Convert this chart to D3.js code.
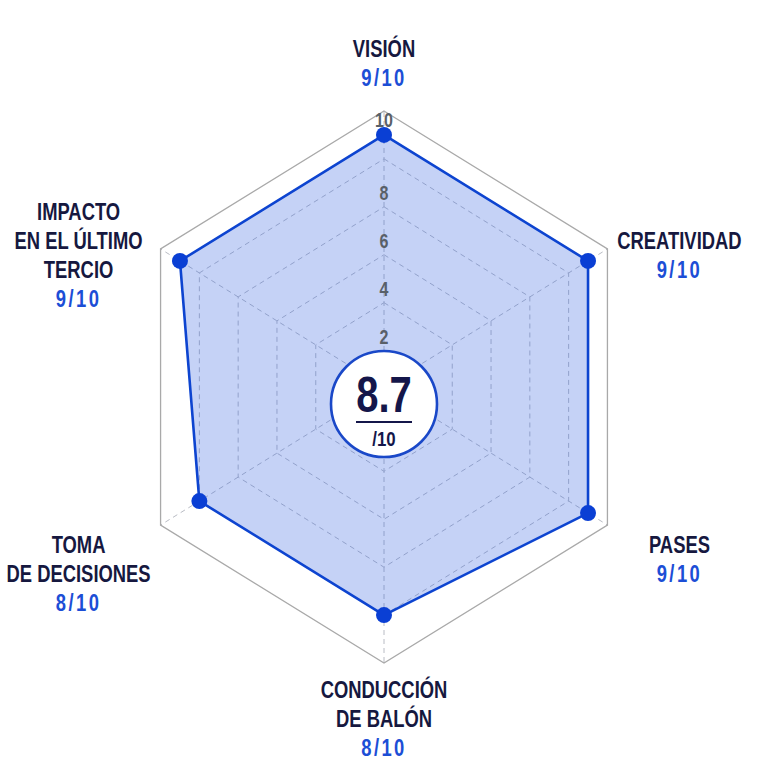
<!DOCTYPE html>
<html>
<head>
<meta charset="utf-8">
<script src="https://cdn.jsdelivr.net/npm/d3@7"></script>
<style>
  html, body { margin: 0; padding: 0; background: #ffffff; }
  svg { display: block; }
</style>
</head>
<body>
<svg id="chart" width="768" height="768"></svg>
<script>
// ---- data ----
const categories = ["VISIÓN", "CREATIVIDAD", "PASES", "CONDUCCIÓN DE BALÓN", "TOMA DE DECISIONES", "IMPACTO EN EL ÚLTIMO TERCIO"];
const labelLines = [["VISIÓN"], ["CREATIVIDAD"], ["PASES"], ["CONDUCCIÓN", "DE BALÓN"], ["TOMA", "DE DECISIONES"], ["IMPACTO", "EN EL ÚLTIMO", "TERCIO"]];
const scores = [9, 9, 9, 8, 8, 9];
const maxScore = 10;
const ticks = [2, 4, 6, 8, 10];

// ---- layout ----
const W = 768, H = 768;
const cx = 384, cy = 387;
const ky = 1.07;
const SX = 0.8; // horizontal condensing of the type
const FONT = "'Liberation Sans', Arial, sans-serif";
const NAVY = "#16183f", BLUE = "#1c4ed6";

const svg = d3.select("#chart");
svg.append("rect").attr("width", W).attr("height", H).attr("fill", "#ffffff");

const r = d3.scaleLinear().domain([0, maxScore]).range([34, 258]);
const angle = d3.scaleLinear().domain([0, categories.length]).range([0, 2 * Math.PI]);

const pt = (rad, a) => [cx + rad * Math.sin(a), cy - rad * Math.cos(a) * ky];
const ringPts = v => categories.map((c, i) => pt(r(v), angle(i)));
const line = d3.line().curve(d3.curveLinearClosed);

// condensed text helper
function ctext(parent, x, y, str, opts) {
  const t = parent.append("text")
    .attr("transform", `translate(${x},${y}) scale(${SX},1)`)
    .attr("text-anchor", "middle")
    .attr("dominant-baseline", opts.baseline || "central")
    .attr("font-family", FONT)
    .attr("font-size", opts.size)
    .attr("font-weight", opts.weight || 700)
    .attr("fill", opts.fill)
    .text(str);
  if (opts.ls) t.attr("letter-spacing", opts.ls);
  return t;
}

const grid = svg.append("g");
grid.selectAll("line.spoke").data(categories).join("line")
  .attr("class", "spoke")
  .attr("x1", cx).attr("y1", cy)
  .attr("x2", (d, i) => pt(r(maxScore), angle(i))[0])
  .attr("y2", (d, i) => pt(r(maxScore), angle(i))[1])
  .attr("stroke", "#b9bcc4").attr("stroke-width", 1).attr("stroke-dasharray", "5,4");
grid.selectAll("path.ring").data(ticks.filter(t => t < maxScore)).join("path")
  .attr("class", "ring")
  .attr("d", v => line(ringPts(v)))
  .attr("fill", "none").attr("stroke", "#b9bcc4").attr("stroke-width", 1).attr("stroke-dasharray", "5,4");
grid.append("path")
  .attr("d", line(ringPts(maxScore)))
  .attr("fill", "none").attr("stroke", "#a9a9a9").attr("stroke-width", 1.3);

// data polygon
const dataPts = scores.map((s, i) => pt(r(s), angle(i)));
svg.append("path")
  .attr("d", line(dataPts))
  .attr("fill", "#2f5fe0").attr("fill-opacity", 0.28)
  .attr("stroke", "#0d44d0").attr("stroke-width", 2.6).attr("stroke-linejoin", "round");
svg.selectAll("circle.pt").data(scores).join("circle")
  .attr("class", "pt")
  .attr("cx", (d, i) => pt(r(d), angle(i))[0])
  .attr("cy", (d, i) => pt(r(d), angle(i))[1])
  .attr("r", 8)
  .attr("fill", "#0a3fd4");

// tick labels along top axis
const tickR = v => v === maxScore ? r(v) - 9 : r(v) - 32;
const tg = svg.append("g");
ticks.forEach(v => ctext(tg, cx, pt(tickR(v), 0)[1], v, { size: 20, weight: 700, fill: "#596068" }));

// category labels
const lh = 29;
categories.forEach((c, i) => {
  const a = angle(i);
  const v = pt(r(maxScore), a);
  const lines = labelLines[i].map(t => ({ t, score: false })).concat([{ t: `${scores[i]}/${maxScore}`, score: true }]);
  const n = lines.length;
  const s = Math.sin(a), co = Math.cos(a);
  let x, y0;
  if (Math.abs(s) < 0.01) {
    x = cx;
    y0 = co > 0 ? v[1] - 33 - (n - 1) * lh : v[1] + 27;
  } else {
    x = v[0] + (s > 0 ? 72 : -82);
    y0 = co > 0 ? v[1] + 6 - (n - 1) * lh / 2 : v[1] + 20;
  }
  const g = svg.append("g");
  lines.forEach((d, k) => ctext(g, x, y0 + k * lh, d.t, {
    size: 23, weight: 700, fill: d.score ? BLUE : NAVY, ls: d.score ? 3 : 0
  }));
});

// center badge
const overall = d3.mean(scores);
const bx = cx, by = cy + 17;
svg.append("circle").attr("cx", bx).attr("cy", by).attr("r", 53)
  .attr("fill", "#ffffff").attr("stroke", "#1a48c8").attr("stroke-width", 2.6);
ctext(svg, bx, by + 8, overall.toFixed(1), { size: 50, weight: 700, fill: "#14164a", baseline: "alphabetic" });
svg.append("line").attr("x1", bx - 28).attr("x2", bx + 28).attr("y1", by + 18).attr("y2", by + 18)
  .attr("stroke", "#14164a").attr("stroke-width", 2);
ctext(svg, bx, by + 42, `/${maxScore}`, { size: 21, weight: 700, fill: "#14164a", baseline: "alphabetic" });
</script>
</body>
</html>
